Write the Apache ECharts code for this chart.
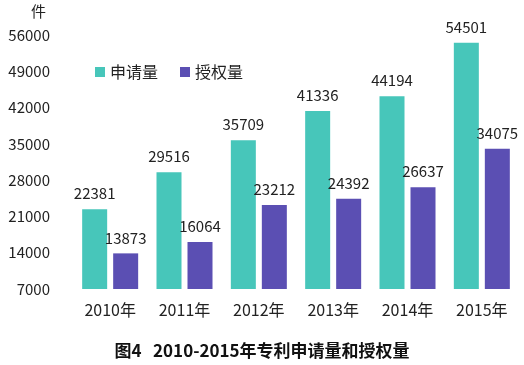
<!DOCTYPE html>
<html><head><meta charset="utf-8">
<script src="https://cdn.jsdelivr.net/npm/echarts@6/dist/echarts.min.js"></script>
<style>html,body{margin:0;padding:0;background:#fff}#c{width:524px;height:365px}</style>
</head><body><div id="c"></div>
<script>
const categories = ['2010年','2011年','2012年','2013年','2014年','2015年'];
const applications = [22381, 29516, 35709, 41336, 44194, 54501];
const grants = [13873, 16064, 23212, 24392, 26637, 34075];
const yTicks = {min: 7000, max: 56000, interval: 7000};
const font = '"Noto Sans CJK SC", "Noto Sans", sans-serif';
const chart = echarts.init(document.getElementById('c'));
chart.setOption({
  animation: false,
  textStyle: {fontFamily: font},
  title: {text: '图4   2010-2015年专利申请量和授权量', left: 'center', bottom: 1,
    textStyle: {fontSize: 17, fontWeight: 'bold', color: '#111', fontFamily: font}},
  legend: {left: 90, top: 59, itemWidth: 10, itemHeight: 10, itemGap: 22,
    icon: 'rect', textStyle: {fontSize: 16, color: '#222', fontFamily: font},
    data: ['申请量','授权量']},
  grid: {left: 73, right: 5, top: 35, bottom: 76},
  xAxis: {type: 'category', data: categories,
    axisLine: {show: false}, axisTick: {show: false},
    axisLabel: {fontSize: 16, color: '#222', margin: 13, fontFamily: font}},
  yAxis: {type: 'value', min: yTicks.min, max: yTicks.max, interval: yTicks.interval,
    name: '件', nameGap: 16, nameTextStyle: {fontSize: 15, color: '#222', align: 'right', padding: [0, 27, 0, 0]},
    splitLine: {show: false}, axisLine: {show: false}, axisTick: {show: false},
    axisLabel: {fontSize: 15, color: '#222', margin: 23, fontFamily: font, formatter: v => String(v)}},
  series: [
    {name: '申请量', type: 'bar', data: applications, barWidth: 25, barGap: '24%',
      itemStyle: {color: '#47C6BA'},
      label: {show: true, position: 'top', fontSize: 15, color: '#222', distance: 8}},
    {name: '授权量', type: 'bar', data: grants, barWidth: 25,
      itemStyle: {color: '#5B4FB3'},
      label: {show: true, position: 'top', fontSize: 15, color: '#222', distance: 8}}
  ]
});
</script></body></html>
